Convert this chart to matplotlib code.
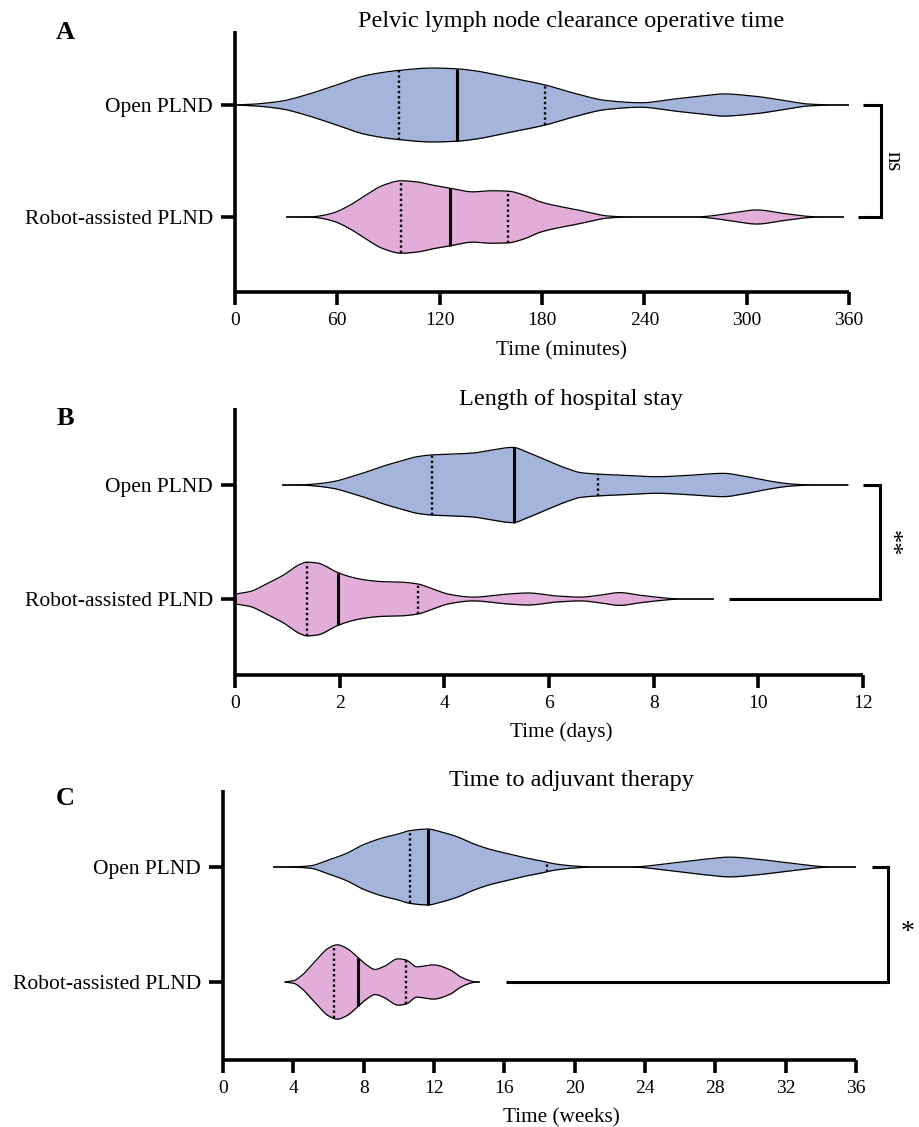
import numpy as np
import matplotlib
matplotlib.use("Agg")
import matplotlib.pyplot as plt

plt.rcParams['font.family'] = ['Liberation Serif', 'DejaVu Serif']

categories = ["Open PLND", "Robot-assisted PLND"]

# ---------------- Panel A: operative time (minutes) ----------------
a_open_x = [0, 10, 20, 28, 40, 57, 77, 95, 116, 130, 140, 160, 182, 198, 218, 238,
            257, 277, 286, 306, 326, 335, 345, 352, 360]
a_open_d = [0, 0.02, 0.06, 0.11, 0.25, 0.5, 0.8, 0.93, 1.0, 0.98, 0.93, 0.75, 0.54, 0.33,
            0.12, 0.06, 0.16, 0.26, 0.3, 0.23, 0.09, 0.03, 0.008, 0, 0]
a_open_q = [96, 130, 182]
a_rob_x = [30, 45, 50, 57.6, 67.4, 77, 87, 97.5, 106.5, 116, 126, 139.6, 150, 160, 169,
           179, 188.7, 198, 208, 218, 228, 240, 270, 277, 290, 306, 321, 335, 342, 357]
a_rob_d = [0, 0.005, 0.03, 0.11, 0.32, 0.6, 0.86, 0.98, 0.95, 0.86, 0.78, 0.68, 0.71, 0.7,
           0.6, 0.41, 0.3, 0.22, 0.12, 0.03, 0.005, 0, 0, 0.02, 0.1, 0.19, 0.1, 0.02, 0.003, 0]
a_rob_q = [97.5, 126, 160]
a_ticks = [0, 60, 120, 180, 240, 300, 360]
a_sig = "ns"

# ---------------- Panel B: hospital stay (days) ----------------
b_open_x = [0.9, 1.3, 1.56, 1.88, 2.2, 2.52, 2.83, 3.15, 3.47, 3.77, 4.11, 4.55, 4.87, 5.31,
            5.57, 5.95, 6.34, 6.6, 6.93, 7.42, 8.06, 8.7, 9.33, 9.78, 10.28, 10.6, 10.93,
            11.2, 11.72]
b_open_d = [0, 0.005, 0.03, 0.09, 0.21, 0.35, 0.5, 0.63, 0.75, 0.8, 0.82, 0.85, 0.92, 1.0,
            0.88, 0.66, 0.44, 0.33, 0.29, 0.26, 0.22, 0.26, 0.31, 0.22, 0.09, 0.03, 0.005,
            0, 0]
b_open_q = [3.77, 5.33, 6.93]
b_rob_x = [0, 0.29, 0.6, 0.92, 1.24, 1.37, 1.56, 1.97, 2.2, 2.52, 2.83, 3.15, 3.49, 3.79,
           4.11, 4.55, 5.2, 5.6, 6.15, 6.6, 6.97, 7.35, 7.74, 8.12, 8.37, 8.6, 9.15]
b_rob_d = [0.13, 0.2, 0.4, 0.63, 0.92, 0.98, 0.96, 0.7, 0.59, 0.5, 0.46, 0.45, 0.4, 0.26,
           0.12, 0.05, 0.13, 0.16, 0.08, 0.05, 0.1, 0.17, 0.1, 0.04, 0.01, 0, 0]
b_rob_q = [1.37, 1.97, 3.49]
b_ticks = [0, 2, 4, 6, 8, 10, 12]
b_sig = "**"

# ---------------- Panel C: time to adjuvant therapy (weeks) ----------------
c_open_x = [2.85, 4.0, 4.95, 5.97, 7.03, 7.95, 9.1, 9.97, 10.65, 11.65, 12.35, 13.3, 14.2,
            15.15, 16.1, 17.0, 18.0, 18.9, 19.85, 20.8, 22.7, 23.7, 24.6, 25.9, 27.5, 28.8,
            30.3, 31.6, 33.2, 34.1, 34.8, 36]
c_open_d = [0, 0.005, 0.03, 0.18, 0.36, 0.58, 0.77, 0.87, 0.96, 1.0, 0.93, 0.8, 0.62, 0.47,
            0.36, 0.26, 0.17, 0.08, 0.03, 0.005, 0, 0.01, 0.05, 0.12, 0.21, 0.26, 0.21, 0.14,
            0.05, 0.01, 0, 0]
c_open_q = [10.65, 11.65, 18.4]
c_rob_x = [3.5, 4.0, 4.5, 4.95, 5.48, 5.99, 6.5, 7.03, 7.66, 8.17, 8.65, 9.12, 9.97, 10.41,
           11.02, 11.97, 12.92, 13.5, 14.07, 14.3, 14.6]
c_rob_d = [0, 0.03, 0.18, 0.4, 0.67, 0.89, 0.98, 0.89, 0.65, 0.45, 0.33, 0.4, 0.61, 0.58,
           0.4, 0.45, 0.32, 0.14, 0.03, 0.005, 0]
c_rob_q = [6.3, 7.7, 10.4]
c_ticks = [0, 4, 8, 12, 16, 20, 24, 28, 32, 36]
c_sig = "*"

titles = ["Pelvic lymph node clearance operative time", "Length of hospital stay",
          "Time to adjuvant therapy"]
xlabels = ["Time (minutes)", "Time (days)", "Time (weeks)"]
letters = ["A", "B", "C"]

BLUE = "#A4B4DB"
PINK = "#E2ADD9"
W, H = 920, 1127


def pchip(x, y, xn):
    x = np.asarray(x, float); y = np.asarray(y, float)
    h = np.diff(x); d = np.diff(y) / h
    m = np.zeros_like(y)
    for k in range(1, len(x) - 1):
        if d[k - 1] * d[k] <= 0:
            m[k] = 0.0
        else:
            w1 = 2 * h[k] + h[k - 1]; w2 = h[k] + 2 * h[k - 1]
            m[k] = (w1 + w2) / (w1 / d[k - 1] + w2 / d[k])
    m[0] = d[0] if d[0] * (d[1] if len(d) > 1 else d[0]) > 0 else 0
    m[-1] = d[-1] if d[-1] * (d[-2] if len(d) > 1 else d[-1]) > 0 else 0
    idx = np.clip(np.searchsorted(x, xn) - 1, 0, len(x) - 2)
    t = (xn - x[idx]) / h[idx]
    h00 = 2 * t**3 - 3 * t**2 + 1; h10 = t**3 - 2 * t**2 + t
    h01 = -2 * t**3 + 3 * t**2; h11 = t**3 - t**2
    return h00 * y[idx] + h10 * h[idx] * m[idx] + h01 * y[idx + 1] + h11 * h[idx] * m[idx + 1]


def violin(ax, xs, ds, q, ypos, color, maxw=0.33):
    xn = np.linspace(xs[0], xs[-1], 800)
    w = np.clip(pchip(xs, ds, xn), 0, None) * maxw
    ax.fill_between(xn, ypos - w, ypos + w, color=color, lw=0, zorder=2)
    ax.plot(xn, ypos + w, color="black", lw=0.9, zorder=3, solid_capstyle="butt")
    ax.plot(xn, ypos - w, color="black", lw=0.9, zorder=3, solid_capstyle="butt")
    for i, qq in enumerate(q):
        ww = np.interp(qq, xn, w)
        if i == 1:
            ax.plot([qq, qq], [ypos - ww, ypos + ww], color="black", lw=2.2, zorder=4,
                    solid_capstyle="butt")
        else:
            ax.plot([qq, qq], [ypos - ww, ypos + ww], color="black", lw=1.7, zorder=4,
                    linestyle=(0, (1.0, 1.2)))


panels = [
    dict(box=(235, 849, 31, 292), yo=105, yr=217, xmax=360, ticks=a_ticks,
         open=(a_open_x, a_open_d, a_open_q), rob=(a_rob_x, a_rob_d, a_rob_q),
         sig=a_sig, br=(368, 365, 379), sigx=386, sigy=0.5, sigrot=270, sigsize=16.5,
         title_y=27, xl_y=355, let_y=39),
    dict(box=(235, 863, 408, 675), yo=485, yr=599, xmax=12, ticks=b_ticks,
         open=(b_open_x, b_open_d, b_open_q), rob=(b_rob_x, b_rob_d, b_rob_q),
         sig=b_sig, br=(12.0, 9.44, 12.33), sigx=12.52, sigy=0.49, sigrot=270, sigsize=19,
         title_y=405, xl_y=737, let_y=425),
    dict(box=(223, 856, 790, 1060), yo=867, yr=982, xmax=36, ticks=c_ticks,
         open=(c_open_x, c_open_d, c_open_q), rob=(c_rob_x, c_rob_d, c_rob_q),
         sig=c_sig, br=(36.9, 16.1, 37.8), sigx=38.96, sigy=0.37, sigrot=0, sigsize=20,
         title_y=786, xl_y=1122, let_y=805),
]

fig = plt.figure(figsize=(W / 100, H / 100), dpi=100)

for i, p in enumerate(panels):
    l, r, t, b = p["box"]
    ax = fig.add_axes([l / W, 1 - b / H, (r - l) / W, (b - t) / H])
    sp = p["yr"] - p["yo"]
    ylo = -(b - p["yr"]) / sp
    yhi = 1 + (p["yo"] - t) / sp
    ax.set_xlim(0, p["xmax"])
    ax.set_ylim(ylo, yhi)
    for s in ["top", "right"]:
        ax.spines[s].set_visible(False)
    for s in ["left", "bottom"]:
        ax.spines[s].set_linewidth(2.6)
        ax.spines[s].set_capstyle("butt")
    ax.set_xticks(p["ticks"])
    ax.set_xticklabels([str(v) for v in p["ticks"]], fontsize=14)
    ax.set_yticks([1, 0])
    ax.set_yticklabels(categories, fontsize=15.5)
    ax.tick_params(axis="x", length=9.5, width=2.6, pad=5, direction="out")
    ax.tick_params(axis="y", length=10, width=2.6, pad=6, direction="out")
    ax.patch.set_alpha(0)

    violin(ax, *p["open"], 1, BLUE)
    violin(ax, *p["rob"], 0, PINK)

    s_open, s_rob, x_end = p["br"]
    ax.plot([s_open, x_end, x_end, s_rob], [1, 1, 0, 0], color="black", lw=2.2,
            clip_on=False, solid_joinstyle="miter", solid_capstyle="butt")
    if p["sigrot"]:
        ax.text(p["sigx"], p["sigy"], p["sig"], rotation=p["sigrot"], fontsize=p["sigsize"],
                ha="center", va="center", clip_on=False)
    else:
        ax.text(p["sigx"], p["sigy"], p["sig"], fontsize=p["sigsize"],
                ha="center", va="baseline", clip_on=False)

    fig.text(571 / W, 1 - p["title_y"] / H, titles[i], fontsize=17.5, ha="center",
             va="baseline")
    fig.text(561 / W, 1 - p["xl_y"] / H, xlabels[i], fontsize=15.3, ha="center",
             va="baseline")
    fig.text(65 / W, 1 - p["let_y"] / H, letters[i], fontsize=19, fontweight="bold",
             ha="center", va="baseline")

fig.savefig("out.png", dpi=100)
